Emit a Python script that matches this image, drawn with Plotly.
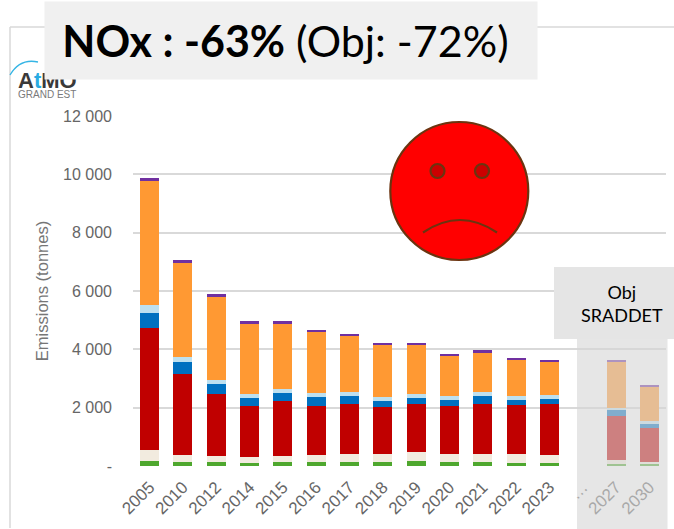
import plotly.graph_objects as go

categories = ["2005","2010","2012","2014","2015","2016","2017","2018","2019","2020","2021","2022","2023","…","2027","2030"]
green      = [183,150,150,115,150,150,150,150,160,137,137,103,103,None,69,69]
beige      = [354,216,193,195,193,216,250,250,309,274,274,308,286,None,125,68]
red        = [4193,2777,2114,1760,1874,1680,1726,1612,1657,1646,1726,1669,1726,None,1532,1177]
blue       = [520,412,343,250,273,309,274,228,206,195,252,195,194,None,206,160]
light_blue = [260,195,160,137,140,135,150,137,137,137,137,114,114,None,68,57]
orange     = [4266,3210,2840,2413,2240,2105,1920,1783,1681,1394,1372,1257,1166,None,1589,1189]
purple     = [114,120,100,90,90,80,70,70,68,46,68,57,46,None,46,46]
y_ticks = [0,2000,4000,6000,8000,10000,12000]
y_labels = ["-","2 000","4 000","6 000","8 000","10 000","12 000"]

series = [(green,"#4ea72e"),(beige,"#f2ebdf"),(red,"#c00000"),(blue,"#0070c0"),
          (light_blue,"#bde0f0"),(orange,"#ff9933"),(purple,"#7030a0")]

L,R,T,B = 133,666,116,466
W,H = 674,529
def X(p): return (p-L)/(R-L)
def Y(p): return (B-p)/(B-T)

fig = go.Figure()
for vals,col in series:
    fig.add_bar(x=categories,y=vals,marker=dict(color=col,line_width=0),showlegend=False)

brown = "#6b3410"
def circ(cx,cy,r,fill,lw):
    return dict(type="circle",xref="paper",yref="paper",x0=X(cx-r),x1=X(cx+r),y0=Y(cy+r),y1=Y(cy-r),
                fillcolor=fill,line=dict(color=brown,width=lw),layer="above")
shapes = [
    dict(type="line",xref="paper",yref="paper",x0=X(10),x1=X(674),y0=Y(27),y1=Y(27),line=dict(color="#d9d9d9",width=1.5)),
    dict(type="line",xref="paper",yref="paper",x0=X(10),x1=X(10),y0=Y(27),y1=Y(528),line=dict(color="#d9d9d9",width=1.5)),
    dict(type="rect",xref="paper",yref="paper",x0=X(577),x1=X(667.5),y0=Y(529),y1=Y(338),
         fillcolor="rgba(213,213,213,0.6)",line_width=0,layer="above"),
    dict(type="rect",xref="paper",yref="paper",x0=X(554),x1=X(674),y0=Y(339),y1=Y(267),
         fillcolor="#e5e5e5",line_width=0,layer="above"),
    circ(459.3,191,69,"#ff0000",2.2),
    circ(437.5,171,7,"#cc0000",2.2),
    circ(482,171,7,"#cc0000",2.2),
    dict(type="path",xref="paper",yref="paper",
         path=f"M {X(423)} {Y(232.5)} Q {X(460)} {Y(207.5)} {X(497)} {Y(232.5)}",
         line=dict(color=brown,width=2.2),layer="above"),
    dict(type="path",xref="paper",yref="paper",
         path=f"M {X(10)} {Y(75)} Q {X(20)} {Y(58)} {X(38)} {Y(62)}",
         line=dict(color="#35b5e5",width=1.3),layer="above"),
]

annotations = [
    dict(xref="paper",yref="paper",x=X(16),y=Y(81),xanchor="left",yanchor="middle",showarrow=False,
         text="<b>A<span style='color:#29abe2'>t</span>MO</b>",font=dict(family="Liberation Sans",size=22,color="#3a3a3a")),
    dict(xref="paper",yref="paper",x=X(16),y=Y(94.5),xanchor="left",yanchor="middle",showarrow=False,
         text="GRAND EST",font=dict(family="Liberation Sans",size=10,color="#7a7a7a")),
    dict(xref="paper",yref="paper",x=X(44),y=Y(1),xanchor="left",yanchor="top",showarrow=False,
         width=492,height=77,bgcolor="#f0f0f0",borderpad=0,align="center",valign="middle",
         text="<b>NOx : -63%</b> (Obj: -72%)&nbsp;",font=dict(family="Lato",size=43,color="#000000")),
    dict(xref="paper",yref="paper",x=X(622),y=Y(303),xanchor="center",yanchor="middle",showarrow=False,
         align="center",text="Obj<br>SRADDET",font=dict(family="Lato",size=18,color="#000000")),
]

fig.update_layout(
    barmode="stack",bargap=0.43,width=W,height=H,
    margin=dict(l=L,r=W-R,t=T,b=H-B,autoexpand=False),
    paper_bgcolor="white",plot_bgcolor="white",
    shapes=shapes,annotations=annotations,
    xaxis=dict(type="category",categoryorder="array",categoryarray=categories,tickangle=-45,
               tickfont=dict(family="Liberation Sans",size=17,color="#666666"),
               showgrid=False,showline=False,ticks="",zeroline=False,ticklabelstandoff=7),
    yaxis=dict(range=[0,12000],tickvals=y_ticks,ticktext=y_labels,
               tickfont=dict(family="Liberation Sans",size=16,color="#666666"),
               gridcolor="#d9d9d9",gridwidth=1.5,zeroline=False,showline=False,ticks="",
               ticklabelstandoff=20,
               title=dict(text="Emissions (tonnes)",font=dict(family="Liberation Sans",size=16.5,color="#767676"),standoff=10)),
)
fig.write_html("out.html",config={"displayModeBar":False},
               post_script="document.body.style.margin='0';document.body.style.overflow='hidden';")
